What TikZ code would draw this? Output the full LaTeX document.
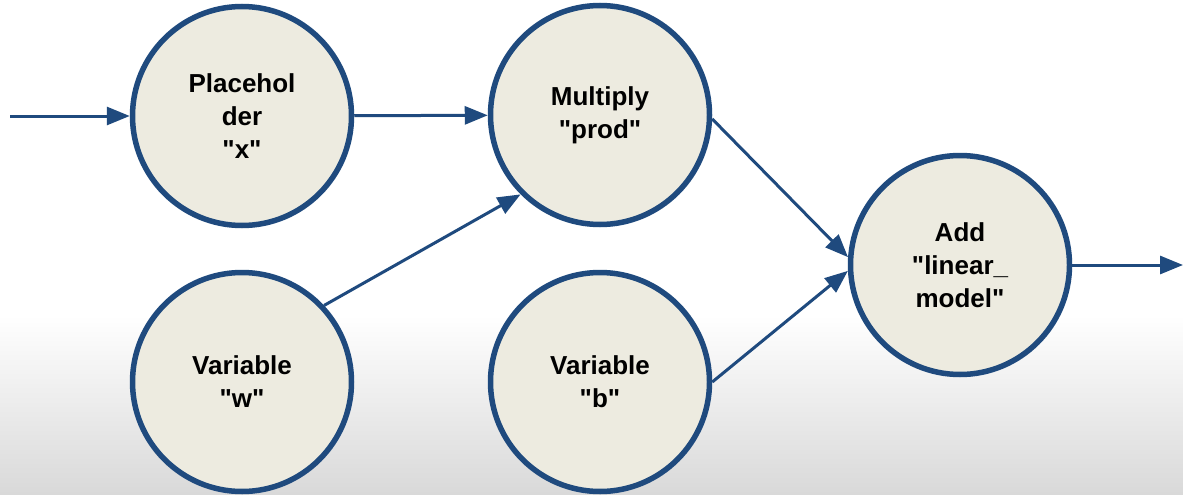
\documentclass[tikz,border=0pt]{standalone}
\usepackage{fontspec}
\setmainfont{Liberation Sans}
\usetikzlibrary{arrows.meta}
\definecolor{opblue}{HTML}{1F4A7E}
\definecolor{opfill}{HTML}{EDEBE0}
\newcommand{\opname}[1]{\textquotedbl#1\textquotedbl}
\begin{document}
\begin{tikzpicture}[x=1pt,y=-1pt,
		opnode/.style={circle, draw=opblue, line width=5.5pt, fill=opfill, minimum size=219pt, inner sep=0pt, align=center, font=\fontsize{26}{33}\selectfont\bfseries},
		flow/.style={draw=opblue, line width=3pt, -{Triangle[length=23pt,width=18pt]}}]
					% Background with grey fade at the bottom
					\fill[white] (0,0) rectangle (1183,495);
					\shade[top color=white, bottom color=black!15] (0,315) rectangle (1183,495);
					\useasboundingbox (0,0) rectangle (1183,495);
					
					% Draw the operation nodes
					\node[opnode] (x) at (242,116) {Placehol\\der\\\opname{x}};
					\node[opnode] (prod) at (600,115) {Multiply\\\opname{prod}};
					\node[opnode] (w) at (242,382) {Variable\\\opname{w}};
					\node[opnode] (b) at (600,382) {Variable\\\opname{b}};
					\node[opnode] (add) at (960,265) {Add\\\textquotedbl linear\_\\model\textquotedbl};
					
					% Free ends of the graph
					\coordinate (in) at (10,116);
					\coordinate (out) at (1183,265);
					
					% Draw the connections
					\draw[flow] (in) -- (x);
					\draw[flow] (x) -- (prod);
					\draw[flow] (w.43) -- (prod.225);
					\draw[flow] (prod.-2) -- (add.176);
					\draw[flow] (b.east) -- (add.183);
					\draw[flow] (add) -- (out);
				\end{tikzpicture}
\end{document}
